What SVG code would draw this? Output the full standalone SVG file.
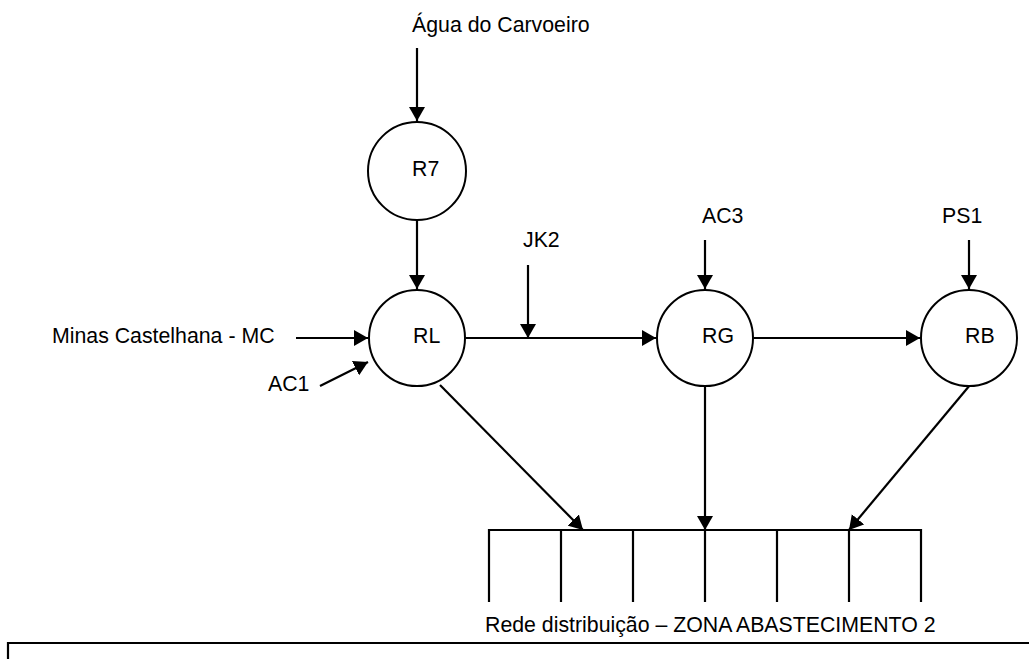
<svg xmlns="http://www.w3.org/2000/svg" width="1029" height="659" viewBox="0 0 1029 659">
<style>
text{font-family:"Liberation Sans",Arial,sans-serif;font-size:21.3px;fill:#000}
.n{fill:#fff;stroke:#000;stroke-width:2}
.c{stroke:#000;stroke-width:2.2;fill:none}
</style>
<defs>
<marker id="ah" markerUnits="userSpaceOnUse" markerWidth="16" markerHeight="16" refX="14" refY="8" orient="auto"><path d="M0,0 L14,8 L0,16 z" fill="#000"/></marker>
</defs>
<rect width="1029" height="659" fill="#fff"/>
<g id="connectors">
<line class="c" x1="417" y1="48" x2="417" y2="121" marker-end="url(#ah)"/>
<line class="c" x1="417" y1="220" x2="417" y2="289" marker-end="url(#ah)"/>
<line class="c" x1="296" y1="338" x2="368" y2="338" marker-end="url(#ah)"/>
<line class="c" x1="320" y1="386" x2="368" y2="362" marker-end="url(#ah)"/>
<line class="c" x1="466" y1="338" x2="656" y2="338" marker-end="url(#ah)"/>
<line class="c" x1="528" y1="265" x2="528" y2="338" marker-end="url(#ah)"/>
<line class="c" x1="705" y1="240" x2="705" y2="289" marker-end="url(#ah)"/>
<line class="c" x1="754" y1="338" x2="920" y2="338" marker-end="url(#ah)"/>
<line class="c" x1="969" y1="240" x2="969" y2="289" marker-end="url(#ah)"/>
<line class="c" x1="440" y1="385" x2="583" y2="530" marker-end="url(#ah)"/>
<line class="c" x1="705" y1="386" x2="705" y2="530" marker-end="url(#ah)"/>
<line class="c" x1="970" y1="385" x2="849" y2="530" marker-end="url(#ah)"/>
</g>
<g id="R7"><circle class="n" cx="417" cy="171" r="49"/><text x="412" y="176">R7</text></g>
<g id="RL"><circle class="n" cx="417" cy="338" r="48"/><text x="413" y="343">RL</text></g>
<g id="RG"><circle class="n" cx="705" cy="338" r="48"/><text x="702" y="343">RG</text></g>
<g id="RB"><circle class="n" cx="969" cy="338" r="48"/><text x="965" y="343">RB</text></g>
<g id="labels">
<text x="412" y="32">Água do Carvoeiro</text>
<text x="52" y="343">Minas Castelhana - MC</text>
<text x="268" y="391">AC1</text>
<text x="523" y="247">JK2</text>
<text x="702" y="223">AC3</text>
<text x="942" y="223">PS1</text>
</g>
<g id="rede">
<path class="c" d="M489,602 V530 H921 V602 M561,530 V602 M633,530 V602 M705,530 V602 M777,530 V602 M849,530 V602"/>
<text x="485" y="632">Rede distribuição – ZONA ABASTECIMENTO 2</text>
</g>
<path id="frame" class="c" d="M8,660 V643 H1030"/>
</svg>
